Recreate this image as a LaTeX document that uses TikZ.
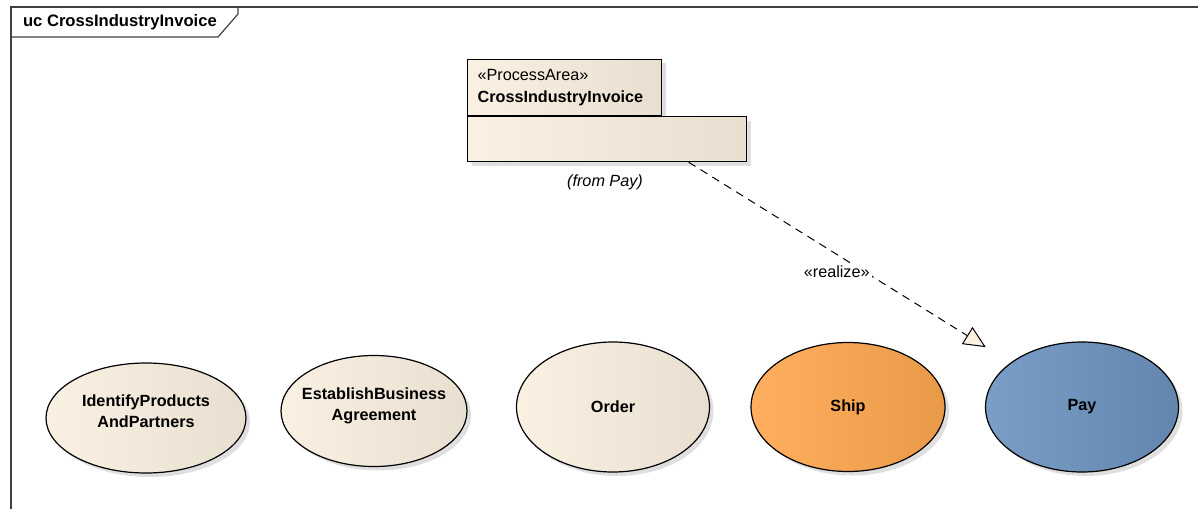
\documentclass[tikz,border=0pt]{standalone}
\usepackage{fontspec}
\setmainfont{Liberation Sans}
\usetikzlibrary{shapes.geometric,shadows,arrows.meta,positioning}
\definecolor{ucCream}{HTML}{FAF1E3}
\definecolor{ucCreamDark}{HTML}{E8DFD0}
\definecolor{ucOrange}{HTML}{FFAF5F}
\definecolor{ucOrangeDark}{HTML}{E99A48}
\definecolor{ucBlue}{HTML}{7A9EC5}
\definecolor{ucBlueDark}{HTML}{6286AE}

\begin{document}
\begin{tikzpicture}[x=0.5pt,y=-0.5pt,
	every node/.style={font=\fontsize{8.1}{10.5}\selectfont},
	usecase/.style={ellipse,draw,line width=0.6pt,inner xsep=-10pt,inner ysep=0pt,align=center,
		font=\fontsize{8.1}{10.5}\selectfont\bfseries,
		drop shadow={shadow xshift=2pt,shadow yshift=-2pt,fill=black!25}},
	creamcase/.style={usecase,left color=ucCream,right color=ucCreamDark},
	pkgpart/.style={rectangle,draw,line width=0.6pt,left color=ucCream,right color=ucCreamDark,
		drop shadow={shadow xshift=2pt,shadow yshift=-2pt,fill=black!25}},
	realize/.style={line width=0.5pt,dash pattern=on 4pt off 3pt,
		-{Triangle[length=11pt,width=10pt,fill=ucCream,line width=0.5pt]}}]
		\useasboundingbox (0,0) rectangle (1198,509);
		% frame
		\draw[black!75,line width=0.6pt] (11,509) -- (11,7) -- (1198,7);
		\draw[black!75,line width=0.6pt] (11,37) -- (218,37) -- (238,14) -- (238,7);
		\node[anchor=west,font=\fontsize{8.3}{10}\selectfont\bfseries] (title) at (16,22) {uc CrossIndustryInvoice};
		% package
		\node[pkgpart,anchor=south west,minimum width=97pt,minimum height=28pt,
			text width=87pt,inner xsep=5pt,align=left] (tab) at (467,116)
			{«ProcessArea»\\[0.5pt]\textbf{CrossIndustryInvoice}};
		\node[pkgpart,anchor=north west,minimum width=139.5pt,minimum height=22.5pt] (body) at (tab.south west) {};
		\node[font=\fontsize{8.1}{10}\selectfont\itshape] (from) at (605,182) {(from Pay)};
		% use cases
		\node[creamcase,text depth=7pt,minimum width=100pt,minimum height=55pt] (IdentifyProducts) at (146,418) {IdentifyProducts\\AndPartners};
		\node[creamcase,text depth=7pt,minimum width=93pt,minimum height=55.5pt] (EstablishBusiness) at (374,411) {EstablishBusiness\\Agreement};
		\node[creamcase,minimum width=96.5pt,minimum height=65pt] (Order) at (613,407) {Order};
		\node[usecase,left color=ucOrange,right color=ucOrangeDark,minimum width=97pt,minimum height=64.5pt] (Ship) at (848,407) {Ship};
		\node[usecase,left color=ucBlue,right color=ucBlueDark,minimum width=96.5pt,minimum height=65pt] (Pay) at (1082,407) {Pay};
		\draw[realize,shorten >=14.6pt] ([xshift=40.75pt]body.south) -- (Pay)
			node[pos=0.46,yshift=-8.5pt,fill=white,inner sep=1pt] (realizeLabel) {«realize»};
	    \end{tikzpicture}
\end{document}
